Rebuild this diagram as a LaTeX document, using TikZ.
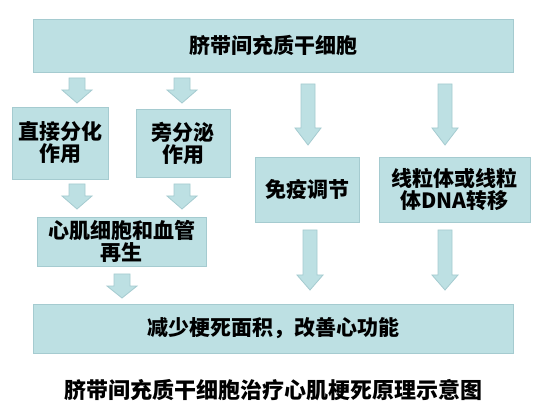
\documentclass[tikz,border=0pt]{standalone}
\usepackage{fontspec}
\setmainfont{Noto Sans CJK SC}
\definecolor{boxc}{RGB}{189,224,227}
\definecolor{bordc}{RGB}{165,203,208}
\tikzset{
  x=1pt, y=-1pt,
  box/.style={draw=bordc, fill=boxc, line width=0.9pt, inner sep=0pt, align=center,
    font=\bfseries\fontsize{21}{22}\selectfont},
  arrowsty/.style={draw=bordc, fill=boxc, line width=0.8pt, line join=miter},
  pics/barrow/.style args={#1/#2/#3/#4}{code={
    \draw[arrowsty] (-#3,0) -- (#3,0) -- (#3,#1-#2) -- (#4,#1-#2) -- (0,#1)
      -- (-#4,#1-#2) -- (-#3,#1-#2) -- cycle;}},
}
\begin{document}
\begin{tikzpicture}
\useasboundingbox (0,0) rectangle (540,419);
\fill[white] (0,0) rectangle (540,419);
% boxes
\node[box, minimum width=480pt, minimum height=53pt] (stem) at (273,45.5) {脐带间充质干细胞};
\node[box, minimum width=96pt, minimum height=72pt] (diff) at (60,143) {直接分化\\作用};
\node[box, minimum width=94pt, minimum height=68pt] (para) at (183,143) {旁分泌\\作用};
\node[box, minimum width=104pt, minimum height=65pt] (immu) at (307,189.5) {免疫调节};
\node[box, minimum width=151pt, minimum height=65pt] (mito) at (454.5,189.5) {线粒体或线粒\\体DNA转移};
\node[box, minimum width=169pt, minimum height=49pt] (regen) at (121.5,241.5) {心肌细胞和血管\\再生};
\node[box, minimum width=480pt, minimum height=49pt] (res) at (273,328.5) {减少梗死面积，改善心功能};
% block arrows
\pic at (77,78) {barrow={25/13/8/15}};
\pic at (182,78) {barrow={25/13/8/15}};
\pic at (308,84) {barrow={61/17/7/13}};
\pic at (445,84) {barrow={61/17/7/13}};
\pic at (77,184) {barrow={25/13/8/15}};
\pic at (182,184) {barrow={25/13/8/15}};
\pic at (310,230) {barrow={60/15/7/13}};
\pic at (445,230) {barrow={60/15/7/13}};
\pic at (122,274) {barrow={24/12/8/15}};
% caption
\node[font=\bfseries\fontsize{22}{24}\selectfont] (cap) at (273,390) {脐带间充质干细胞治疗心肌梗死原理示意图};
\end{tikzpicture}
\end{document}
